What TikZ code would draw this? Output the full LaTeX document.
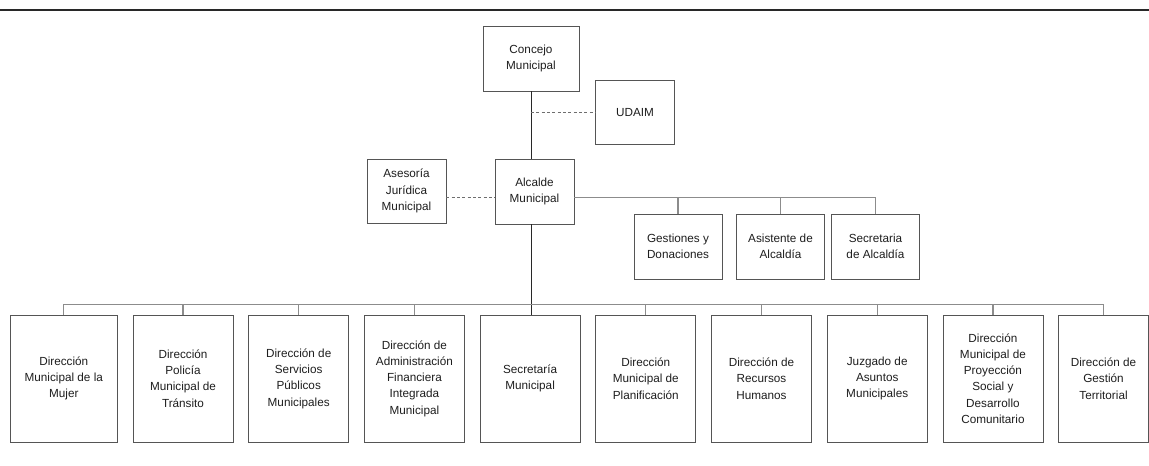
\documentclass[tikz,border=0pt]{standalone}
\usepackage{fontspec}
\setmainfont{Liberation Sans}

\begin{document}
\begin{tikzpicture}[x=0.75pt,y=-0.75pt,
  orgbox/.style={draw=oc_edge,line width=0.6pt,fill=white,inner sep=0pt,align=center,
                 text=oc_text,font=\fontsize{8.8}{12.2}\selectfont},
  topbox/.style={orgbox,minimum width=59.25pt,minimum height=48pt},
  sidebox/.style={orgbox,minimum width=66pt,minimum height=48.75pt},
  dirbox/.style={orgbox,minimum width=75pt,minimum height=95.25pt},
  conn/.style={draw=oc_line,line width=0.9pt},
  trunk/.style={draw=oc_dark,line width=0.6pt},
  advice/.style={draw=oc_adv,line width=0.7pt,dash pattern=on 2.2pt off 1.8pt}]

% ------------------------------------------------ org chart colors
\definecolor{oc_dark}{RGB}{40,40,40}     %#282828
\definecolor{oc_edge}{RGB}{85,85,85}     %#555555
\definecolor{oc_line}{RGB}{140,140,140}  %#8C8C8C
\definecolor{oc_adv}{RGB}{110,110,110}   %#6E6E6E
\definecolor{oc_text}{RGB}{30,30,30}     %#1E1E1E

\useasboundingbox (0,0) rectangle (1149,465);

% header rule
  \draw[line width=1.5pt,draw=oc_dark] (0,9.5) -- (1149,9.5);

% top level
\node[topbox,minimum width=72pt,minimum height=48.75pt] (concejo) at (531,58.5) {Concejo\\Municipal};
\node[topbox] (udaim)    at (635,112.2) {UDAIM};
\node[topbox,minimum height=48.75pt] (alcalde) at (534.5,191.5) {Alcalde\\Municipal};
\node[topbox] (asesoria) at (406.5,191) {Asesoría\\Jurídica\\Municipal};

% staff of the mayor
\node[sidebox] (gestiones)  at (678,246.5)   {Gestiones y\\Donaciones};
\node[sidebox] (asistente)  at (780.5,246.5) {Asistente de\\Alcaldía};
\node[sidebox] (secalcaldia) at (875.5,246.5) {Secretaria\\de Alcaldía};

% directions
\node[dirbox,minimum width=80.7pt] (dmujer) at (63.8,378.5)   {Dirección\\Municipal de la\\Mujer};
\node[dirbox] (dtransito)  at (183,378.5)   {Dirección\\Policía\\Municipal de\\Tránsito};
\node[dirbox] (dservicios) at (298.7,378.5) {Dirección de\\Servicios\\Públicos\\Municipales};
\node[dirbox] (dafim)      at (414.4,378.5) {Dirección de\\Administración\\Financiera\\Integrada\\Municipal};
\node[dirbox] (secmuni)    at (530.1,378.5) {Secretaría\\Municipal};
\node[dirbox] (dplanif)    at (645.8,378.5) {Dirección\\Municipal de\\Planificación};
\node[dirbox] (drrhh)      at (761.5,378.5) {Dirección de\\Recursos\\Humanos};
\node[dirbox] (juzgado)    at (877.2,378.5) {Juzgado de\\Asuntos\\Municipales};
\node[dirbox] (dproyeccion) at (992.9,378.5) {Dirección\\Municipal de\\Proyección\\Social y\\Desarrollo\\Comunitario};
\node[dirbox,minimum width=67.4pt] (dgestion) at (1103.5,378.5) {Dirección de\\Gestión\\Territorial};

% connector levels
\coordinate (side) at (0,197.7);
\coordinate (bus)  at (0,304.3);

% main line
\draw[trunk] (concejo.south) -- (concejo.south |- alcalde.north);
\draw[trunk] (concejo.south |- alcalde.south) -- (concejo.south |- secmuni.north);
\draw[advice] (udaim.west -| concejo.south) -- (udaim.west);
\draw[advice] (asesoria.east |- side) -- (alcalde.west |- side);

% mayor staff
\draw[conn] (alcalde.east |- side) -- (secalcaldia.north |- side);
\draw[conn] (gestiones.north |- side) -- (gestiones.north);
\draw[conn] (asistente.north |- side) -- (asistente.north);
\draw[conn] (secalcaldia.north |- side) -- (secalcaldia.north);

% directions bus
\draw[conn] (dmujer.north |- bus) -- (dgestion.north |- bus);
\draw[conn] (dmujer.north |- bus) -- (dmujer.north);
\draw[conn] (dtransito.north |- bus) -- (dtransito.north);
\draw[conn] (dservicios.north |- bus) -- (dservicios.north);
\draw[conn] (dafim.north |- bus) -- (dafim.north);
\draw[conn] (dplanif.north |- bus) -- (dplanif.north);
\draw[conn] (drrhh.north |- bus) -- (drrhh.north);
\draw[conn] (juzgado.north |- bus) -- (juzgado.north);
\draw[conn] (dproyeccion.north |- bus) -- (dproyeccion.north);
\draw[conn] (dgestion.north |- bus) -- (dgestion.north);

\end{tikzpicture}
\end{document}
